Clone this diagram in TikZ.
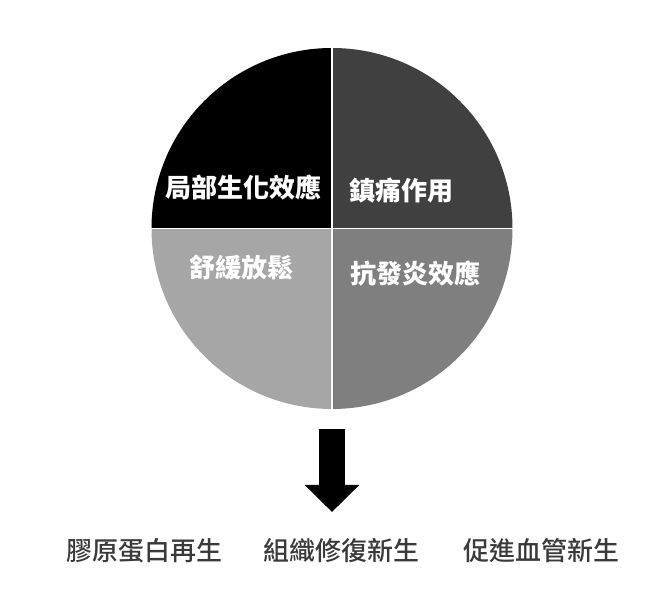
\documentclass[tikz,border=0pt]{standalone}
\usepackage{fontspec}
\newfontfamily\cjk{Noto Sans CJK TC}
\newfontfamily\cjkmed{Noto Sans CJK TC Medium}
\usetikzlibrary{arrows.meta}
\definecolor{quadTR}{HTML}{404040}
\definecolor{quadBL}{HTML}{A6A6A6}
\definecolor{quadBR}{HTML}{7F7F7F}
\definecolor{textgray}{HTML}{3A3A3A}

\begin{document}
\begin{tikzpicture}[
  x=1pt, y=1pt,
  quadlabel/.style={text=white,font=\cjk\bfseries\fontsize{26}{30}\selectfont,inner sep=0pt},
  outlabel/.style={text=textgray,font=\cjkmed\fontsize{26}{30}\selectfont,inner sep=0pt},
  ]
  \tikzset{%
    blockarrow/.style={
      line width=26pt,
      line cap=butt,
      -{Triangle[length=27pt,width=53pt]},
    },
  }
  \useasboundingbox (0,0) rectangle (654,601);
  %Quadrants
  \coordinate (c) at (332,372.5);
  \fill (c) -- ++(180:180.5) arc (180:90:180.5) -- cycle;
  \fill[quadTR] (c) -- ++(90:180.5) arc (90:0:180.5) -- cycle;
  \fill[quadBL] (c) -- ++(180:180.5) arc (180:270:180.5) -- cycle;
  \fill[quadBR] (c) -- ++(270:180.5) arc (270:360:180.5) -- cycle;
  \draw[white, line width=1.5pt] (c) ++(-181,0) -- ++(362,0);
  \draw[white, line width=1.5pt] (c) ++(0,-181) -- ++(0,362);
  %Labels
  \node[quadlabel](local) at (243.5,413){局部生化效應};
  \node[quadlabel](pain) at (401.5,410){鎮痛作用};
  \node[quadlabel](relax) at (241.5,333){舒緩放鬆};
  \node[quadlabel](anti) at (415.5,327){抗發炎效應};
  %Arrow
  \coordinate (arrtop) at (332,172);
  \coordinate (arrtip) at (332,89);
  \draw[blockarrow] (arrtop) -- (arrtip);
  %Results
  \node[outlabel](collagen) at (144.5,50){膠原蛋白再生};
  \node[outlabel](tissue) at (341.5,50){組織修復新生};
  \node[outlabel](vessel) at (541,50){促進血管新生};
\end{tikzpicture}
\end{document}
